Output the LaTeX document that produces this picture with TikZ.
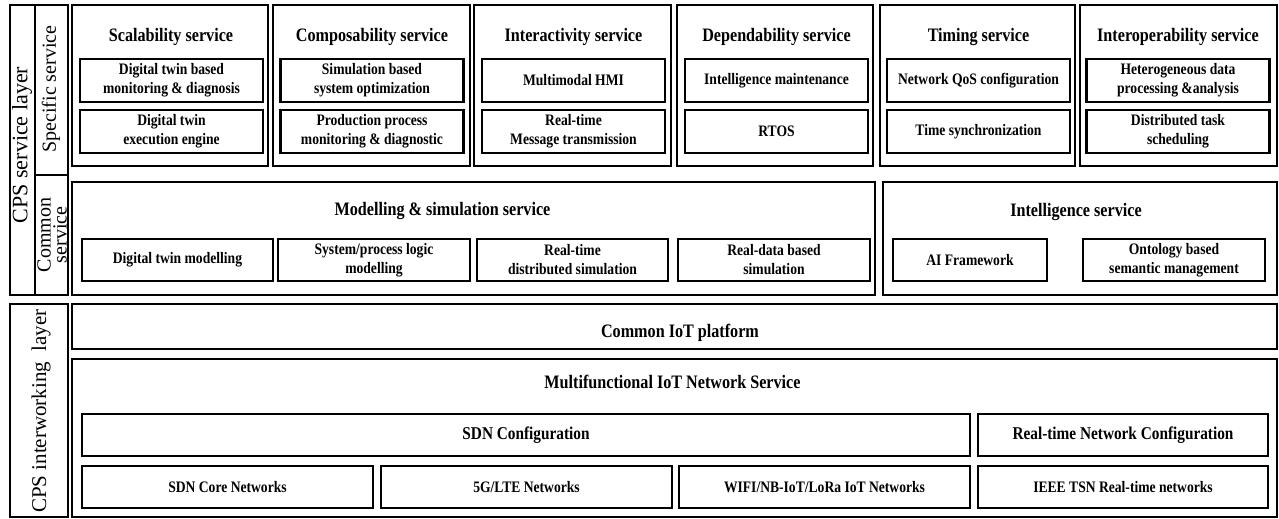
\documentclass[tikz,border=0pt]{standalone}
\usepackage{fontspec}
\setmainfont{Liberation Serif}
\newfontfamily\narrowserif[FakeStretch=0.85]{Liberation Serif}
\usepackage{tikz}

\tikzset{
  layerbox/.style={draw,rectangle,line width=1.6pt,inner sep=0pt},
  itembox/.style={draw,rectangle,line width=2.2pt,inner sep=0pt,align=center,
    font=\narrowserif\bfseries\fontsize{16}{19}\selectfont},
  headtext/.style={anchor=base,inner sep=0pt,
    font=\narrowserif\bfseries\fontsize{19}{22}\selectfont},
  sidetext/.style={rotate=90,align=center,inner sep=0pt,
    font=\fontsize{20}{16}\selectfont},
}

\begin{document}
\begin{tikzpicture}[x=1pt,y=-1pt]
\useasboundingbox (0,0) rectangle (1279,519);

% side strips
\node[layerbox,minimum width=25pt,minimum height=290pt] (svcstrip) at (22.5,150) {};
\node[sidetext,font=\fontsize{22}{22}\selectfont] (svclabel) at (22,145) {CPS service layer};
\node[layerbox,minimum width=33pt,minimum height=170pt] (specstrip) at (51.5,90) {};
\node[sidetext] (speclabel) at (51,89) {Specific service};
\node[layerbox,minimum width=33pt,minimum height=120pt] (comstrip) at (51.5,235) {};
\node[sidetext] (comlabel) at (52,235) {Common\\service};
\node[layerbox,minimum width=58pt,minimum height=213pt] (iwstrip) at (39,410.5) {};
\node[sidetext,font=\fontsize{21}{21}\selectfont] (iwlabel) at (41,411) {CPS interworking~~layer};

% specific services
\node[layerbox,minimum width=196pt,minimum height=161pt] (scal) at (170,85.5) {};
\node[headtext] (scalt) at (171,42) {Scalability service};
\node[itembox,minimum width=183pt,minimum height=43pt] (scala) at (171.5,80.5) {Digital twin based\\monitoring \& diagnosis};
\node[itembox,minimum width=183pt,minimum height=43pt] (scalb) at (171.5,131.5) {Digital twin\\execution engine};

\node[layerbox,minimum width=197pt,minimum height=161pt] (comp) at (371.5,85.5) {};
\node[headtext] (compt) at (372,42) {Composability service};
\node[itembox,minimum width=183pt,minimum height=43pt] (compa) at (372,80.5) {Simulation based\\system optimization};
\node[itembox,minimum width=183pt,minimum height=43pt] (compb) at (372,131.5) {Production process\\monitoring \& diagnostic};

\node[layerbox,minimum width=197pt,minimum height=161pt] (inter) at (572.5,85.5) {};
\node[headtext] (intert) at (573.5,42) {Interactivity service};
\node[itembox,minimum width=183pt,minimum height=43pt] (intera) at (573.5,80.5) {Multimodal HMI};
\node[itembox,minimum width=183pt,minimum height=43pt] (interb) at (573.5,131.5) {Real-time\\Message transmission};

\node[layerbox,minimum width=196pt,minimum height=161pt] (depe) at (775,85.5) {};
\node[headtext] (depet) at (776.5,42) {Dependability service};
\node[itembox,minimum width=183pt,minimum height=43pt] (depea) at (776.5,80.5) {Intelligence maintenance};
\node[itembox,minimum width=183pt,minimum height=43pt] (depeb) at (776.5,131.5) {RTOS};

\node[layerbox,minimum width=195pt,minimum height=161pt] (timi) at (977.5,85.5) {};
\node[headtext] (timit) at (978.5,42) {Timing service};
\node[itembox,minimum width=183pt,minimum height=43pt] (timia) at (978.5,80.5) {Network QoS configuration};
\node[itembox,minimum width=183pt,minimum height=43pt] (timib) at (978.5,131.5) {Time synchronization};

\node[layerbox,minimum width=197pt,minimum height=161pt] (iope) at (1178.5,85.5) {};
\node[headtext] (iopet) at (1178,42) {Interoperability service};
\node[itembox,minimum width=183pt,minimum height=43pt] (iopea) at (1178,80.5) {Heterogeneous data\\processing \&analysis};
\node[itembox,minimum width=183pt,minimum height=43pt] (iopeb) at (1178,131.5) {Distributed task\\scheduling};

% common services
\node[layerbox,minimum width=803pt,minimum height=113pt] (msim) at (473.5,238.5) {};
\node[headtext] (msimt) at (442.5,215) {Modelling \& simulation service};
\node[itembox,minimum width=191pt,minimum height=42pt] (msima) at (177.5,260) {Digital twin modelling};
\node[itembox,minimum width=192pt,minimum height=42pt] (msimb) at (374,260) {System/process logic\\modelling};
\node[itembox,minimum width=191pt,minimum height=42pt] (msimc) at (572.5,260) {Real-time\\distributed simulation};
\node[itembox,minimum width=192pt,minimum height=42pt] (msimd) at (774,260) {Real-data based\\simulation};

\node[layerbox,minimum width=394pt,minimum height=113pt] (intel) at (1080,238.5) {};
\node[headtext] (intelt) at (1076,216) {Intelligence service};
\node[itembox,minimum width=154pt,minimum height=42pt] (intela) at (970,260) {AI Framework};
\node[itembox,minimum width=182pt,minimum height=42pt] (intelb) at (1174,260) {Ontology based\\semantic management};

% interworking layer
\node[layerbox,minimum width=1205pt,minimum height=45pt] (iot) at (674.5,326.5) {};
\node[headtext] (iott) at (680,337) {Common IoT platform};
\node[layerbox,minimum width=1205pt,minimum height=158pt] (mfn) at (674.5,438) {};
\node[headtext] (mfnt) at (672.5,388) {Multifunctional IoT Network Service};
\node[itembox,minimum width=888pt,minimum height=42pt,font=\narrowserif\bfseries\fontsize{18}{20}\selectfont] (sdn) at (526,435) {SDN Configuration};
\node[itembox,minimum width=290pt,minimum height=42pt,font=\narrowserif\bfseries\fontsize{18}{20}\selectfont] (rtn) at (1123,435) {Real-time Network Configuration};
\node[itembox,minimum width=291pt,minimum height=42pt] (core) at (227.5,487) {SDN Core Networks};
\node[itembox,minimum width=291pt,minimum height=42pt] (lte) at (526.5,487) {5G/LTE Networks};
\node[itembox,minimum width=291pt,minimum height=42pt] (wifi) at (824.5,487) {WIFI/NB-IoT/LoRa IoT Networks};
\node[itembox,minimum width=290pt,minimum height=42pt] (tsn) at (1123,487) {IEEE TSN Real-time networks};
\end{tikzpicture}
\end{document}
